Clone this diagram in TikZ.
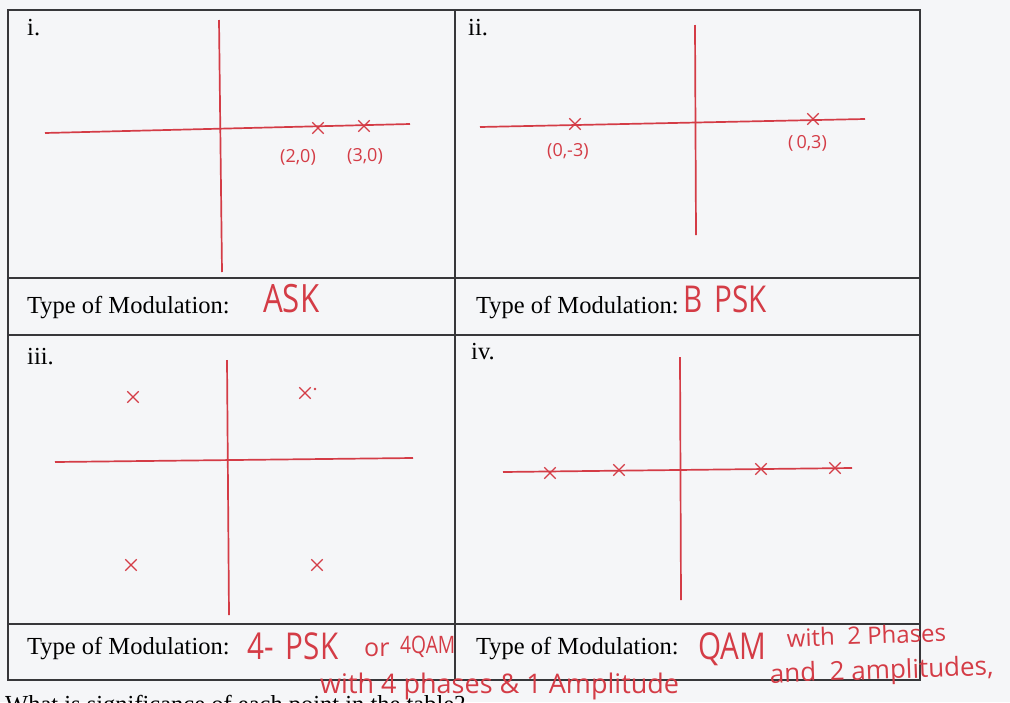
\documentclass[tikz,border=0pt]{standalone}
\usepackage{fontspec}
\setmainfont{Liberation Serif}
\newfontfamily\hand[FakeStretch=0.8]{Open Sans}
\newfontfamily\handw{Open Sans}
\usetikzlibrary{shapes.misc}
\definecolor{ink}{RGB}{212,60,70}
\definecolor{rulec}{RGB}{55,55,58}
\definecolor{paper}{RGB}{245,246,248}
\begin{document}
\begin{tikzpicture}[x=1pt,y=-1pt,
  axis/.style={draw=ink,line width=1.7pt},
  xmark/.style={cross out,draw=ink,line width=1.3pt,minimum size=10pt,inner sep=0pt},
  ptlab/.style={text=ink,font=\handw\fontsize{18}{18}\selectfont,anchor=base west,inner sep=0pt},
  hw/.style={text=ink,font=\hand\fontsize{37}{37}\selectfont,anchor=base west,inner sep=0pt},
  hws/.style={text=ink,font=\handw\fontsize{25}{25}\selectfont,anchor=base west,inner sep=0pt},
  lab/.style={font=\fontsize{24.5}{24.5}\selectfont,anchor=base west,inner sep=0pt},
  tab/.style={draw=rulec,line width=1.6pt}]
\useasboundingbox[fill=paper] (0,0) rectangle (1010,702);
\begin{scope}
\clip (0,0) rectangle (1010,702);
% table
\draw[tab] (8,10) rectangle (920,680);
\draw[tab] (8,278) -- (920,278);
\draw[tab] (8,335) -- (920,335);
\draw[tab] (8,624) -- (920,624);
\draw[tab] (455,10) -- (455,680);
% cell labels
\node[lab] (li) at (27,35) {i.};
\node[lab] (lii) at (468,35) {ii.};
\node[lab] (liii) at (27,364) {iii.};
\node[lab] (liv) at (471,359) {iv.};
\node[lab] (t1) at (27,313) {Type of Modulation:};
\node[lab] (t2) at (476,313) {Type of Modulation:};
\node[lab] (t3) at (27,654) {Type of Modulation:};
\node[lab] (t4) at (476,654) {Type of Modulation:};
% panel i
\draw[axis] (219,20) -- (222,272);
\draw[axis] (45,133) -- (410,124);
\node[xmark] (a1) at (318,128) {};
\node[xmark] (a2) at (364,126) {};
\node[ptlab] (a1l) at (280,162) {(2,0)};
\node[ptlab] (a2l) at (347,161) {(3,0)};
% panel ii
\draw[axis] (695,25) -- (696,235);
\draw[axis] (480,127) -- (865,119);
\node[xmark] (b1) at (575,124) {};
\node[xmark] (b2) at (813,119) {};
\node[ptlab] (b1l) at (547,156) {(0,-3)};
\node[ptlab] (b2l) at (788,148) {(\,0,3)};
% panel iii
\draw[axis] (227,360) -- (229,615);
\draw[axis] (55,462) -- (413,458);
\node[xmark] (c1) at (133,397) {};
\node[xmark] (c2) at (305,393) {};
\fill[ink] (315,389) circle (1.3pt);
\node[xmark] (c3) at (131,565) {};
\node[xmark] (c4) at (317,565) {};
% panel iv
\draw[axis] (680,357) -- (681,600);
\draw[axis] (503,472) -- (852,468);
\node[xmark] (d1) at (550,473) {};
\node[xmark] (d2) at (619,470) {};
\node[xmark] (d3) at (761,469) {};
\node[xmark] (d4) at (835,468) {};
% answers
\node[hw,font=\hand\fontsize{39}{39}\selectfont] (h1) at (263,312) {ASK};
\node[hw] (h2) at (683,312) {B\,\,PSK};
\node[hw] (h3) at (247,659) {4-\,\,PSK};
\node[hws] (h3b) at (364,656) {or};
\node[hw,font=\hand\fontsize{24}{24}\selectfont] (h3c) at (400,653) {4QAM};
\node[hws,font=\handw\fontsize{27}{27}\selectfont] (h4) at (320,693) {with 4 phases \& 1 Amplitude};
\node[hw] (h5) at (698,659) {QAM};
\node[hws,rotate=2,font=\handw\fontsize{24}{24}\selectfont] (h6) at (787,647) {with\ \ 2 Phases};
\node[hws,rotate=2,font=\handw\fontsize{26}{26}\selectfont] (h7) at (770,683) {and\ \ 2 amplitudes,};
% cut-off question line
\node[lab] (q) at (5,712) {What is significance of each point in the table?};
\end{scope}
\end{tikzpicture}
\end{document}
